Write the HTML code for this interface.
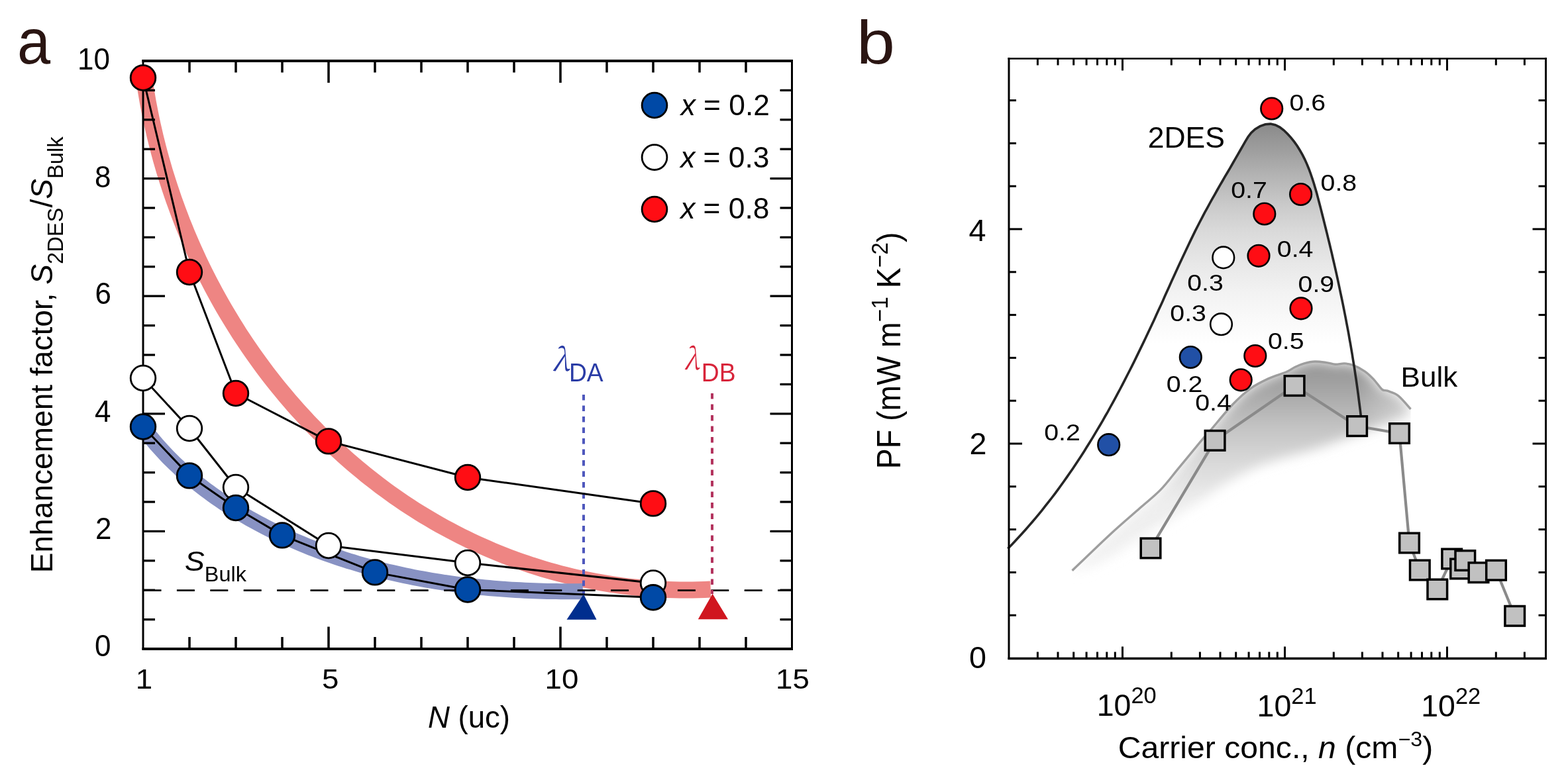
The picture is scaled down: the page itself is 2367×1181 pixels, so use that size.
<!DOCTYPE html>
<html><head><meta charset="utf-8"><title>Figure</title>
<style>html,body{margin:0;padding:0;background:#fff;overflow:hidden;width:2367px;height:1181px}svg{display:block;filter:blur(0.45px)}</style>
</head><body>
<svg width="2367" height="1181" viewBox="0 0 2367 1181">
<rect width="2367" height="1181" fill="#fff"/>
<path d="M218.8,127.2 L220.2,136.0 L221.7,144.8 L223.2,153.6 L224.9,162.4 L226.6,171.2 L228.4,180.0 L230.3,188.8 L232.3,197.6 L234.3,206.3 L236.5,215.0 L238.7,223.7 L241.0,232.4 L243.4,241.1 L245.9,249.8 L248.4,258.4 L251.1,267.0 L253.8,275.6 L256.6,284.2 L259.5,292.8 L262.4,301.3 L265.5,309.8 L268.6,318.3 L271.8,326.7 L275.0,335.1 L278.4,343.5 L281.8,351.9 L285.3,360.2 L288.9,368.5 L292.6,376.8 L296.3,385.0 L300.1,393.2 L304.0,401.4 L308.0,409.5 L312.1,417.6 L316.2,425.6 L320.4,433.6 L324.7,441.6 L329.0,449.5 L333.4,457.4 L337.9,465.3 L342.5,473.0 L347.2,480.8 L351.9,488.5 L356.7,496.2 L361.5,503.8 L366.5,511.4 L371.5,518.9 L376.6,526.3 L381.7,533.8 L386.9,541.1 L392.2,548.4 L397.6,555.7 L403.0,562.9 L408.5,570.1 L414.1,577.2 L419.7,584.2 L425.4,591.2 L431.2,598.1 L437.0,605.0 L442.9,611.8 L448.8,618.5 L454.9,625.2 L461.0,631.8 L467.1,638.4 L473.3,644.8 L479.6,651.3 L486.0,657.6 L492.4,663.9 L498.8,670.1 L505.4,676.3 L511.9,682.4 L518.6,688.4 L525.3,694.3 L532.1,700.2 L538.9,706.0 L545.8,711.7 L552.7,717.4 L559.7,722.9 L566.8,728.4 L573.9,733.9 L581.1,739.2 L588.3,744.5 L595.6,749.7 L602.9,754.8 L610.3,759.8 L617.8,764.7 L625.3,769.6 L632.8,774.3 L640.4,779.0 L648.1,783.6 L655.8,788.1 L663.6,792.6 L671.4,796.9 L679.2,801.1 L687.2,805.3 L695.1,809.4 L703.1,813.3 L711.2,817.2 L719.3,821.0 L727.4,824.7 L735.6,828.3 L743.9,831.9 L752.1,835.3 L760.5,838.6 L768.8,841.8 L777.2,845.0 L785.7,848.0 L794.2,850.9 L802.7,853.8 L811.3,856.5 L819.9,859.2 L828.5,861.7 L837.2,864.1 L845.9,866.5 L854.6,868.7 L863.4,870.8 L872.2,872.9 L881.0,874.8 L889.9,876.6 L898.8,878.3 L907.7,879.9 L916.7,881.4 L925.7,882.8 L934.7,884.1 L943.7,885.3 L952.8,886.4 L961.9,887.3 L971.0,888.2 L980.2,888.9 L989.3,889.5 L998.5,890.1 L1007.8,890.5 L1017.0,890.7 L1026.2,890.9 L1035.5,891.0 L1044.8,890.9 L1054.1,890.7 L1063.4,890.4 L1072.8,890.0" fill="none" stroke="#ee8583" stroke-width="25"/>
<path d="M215.2,644.4 L219.2,649.8 L223.3,655.2 L227.4,660.5 L231.7,665.7 L236.0,670.8 L240.5,675.8 L245.0,680.8 L249.5,685.7 L254.2,690.6 L258.9,695.3 L263.7,700.0 L268.6,704.6 L273.5,709.2 L278.5,713.7 L283.6,718.1 L288.7,722.5 L293.9,726.7 L299.1,731.0 L304.4,735.1 L309.8,739.2 L315.2,743.2 L320.7,747.2 L326.2,751.1 L331.7,754.9 L337.3,758.7 L343.0,762.4 L348.6,766.1 L354.4,769.7 L360.1,773.2 L365.9,776.7 L371.8,780.1 L377.6,783.5 L383.6,786.8 L389.5,790.0 L395.5,793.2 L401.5,796.3 L407.5,799.4 L413.6,802.4 L419.7,805.4 L425.8,808.3 L431.9,811.1 L438.1,813.9 L444.2,816.6 L450.4,819.3 L456.7,821.9 L462.9,824.5 L469.2,827.0 L475.4,829.4 L481.7,831.8 L488.1,834.2 L494.4,836.5 L500.8,838.7 L507.1,840.9 L513.5,843.0 L519.9,845.1 L526.4,847.2 L532.8,849.1 L539.3,851.1 L545.7,853.0 L552.2,854.8 L558.7,856.6 L565.2,858.3 L571.8,860.0 L578.3,861.7 L584.9,863.3 L591.4,864.8 L598.0,866.3 L604.6,867.8 L611.2,869.2 L617.8,870.6 L624.4,871.9 L631.1,873.2 L637.7,874.4 L644.4,875.6 L651.0,876.8 L657.7,877.9 L664.4,878.9 L671.1,880.0 L677.8,880.9 L684.5,881.9 L691.2,882.8 L697.9,883.6 L704.6,884.5 L711.3,885.3 L718.1,886.0 L724.8,886.7 L731.5,887.4 L738.3,888.0 L745.0,888.6 L751.8,889.1 L758.5,889.6 L765.3,890.1 L772.0,890.6 L778.8,891.0 L785.5,891.3 L792.3,891.7 L799.0,892.0 L805.8,892.3 L812.5,892.5 L819.3,892.7 L826.0,892.9 L832.8,893.0 L839.5,893.1 L846.2,893.2 L853.0,893.2 L859.7,893.2 L866.4,893.2 L873.2,893.2 L879.9,893.1" fill="none" stroke="#8892c3" stroke-width="24"/>
<g stroke="#000" fill="none">
<line x1="214.5" y1="92" x2="1197" y2="92" stroke-width="4"/>
<line x1="214.5" y1="980" x2="1197" y2="980" stroke-width="4"/>
<line x1="216" y1="90" x2="216" y2="981.5" stroke-width="3"/>
<line x1="1195.5" y1="90" x2="1195.5" y2="981.5" stroke-width="3"/>
<line x1="286.0" y1="92" x2="286.0" y2="109.5" stroke-width="3.5"/>
<line x1="286.0" y1="979.5" x2="286.0" y2="962.0" stroke-width="3.5"/>
<line x1="356.0" y1="92" x2="356.0" y2="109.5" stroke-width="3.5"/>
<line x1="356.0" y1="979.5" x2="356.0" y2="962.0" stroke-width="3.5"/>
<line x1="426.0" y1="92" x2="426.0" y2="109.5" stroke-width="3.5"/>
<line x1="426.0" y1="979.5" x2="426.0" y2="962.0" stroke-width="3.5"/>
<line x1="496.0" y1="92" x2="496.0" y2="125.0" stroke-width="3.5"/>
<line x1="496.0" y1="979.5" x2="496.0" y2="946.5" stroke-width="3.5"/>
<line x1="566.0" y1="92" x2="566.0" y2="109.5" stroke-width="3.5"/>
<line x1="566.0" y1="979.5" x2="566.0" y2="962.0" stroke-width="3.5"/>
<line x1="636.0" y1="92" x2="636.0" y2="109.5" stroke-width="3.5"/>
<line x1="636.0" y1="979.5" x2="636.0" y2="962.0" stroke-width="3.5"/>
<line x1="706.0" y1="92" x2="706.0" y2="109.5" stroke-width="3.5"/>
<line x1="706.0" y1="979.5" x2="706.0" y2="962.0" stroke-width="3.5"/>
<line x1="776.0" y1="92" x2="776.0" y2="109.5" stroke-width="3.5"/>
<line x1="776.0" y1="979.5" x2="776.0" y2="962.0" stroke-width="3.5"/>
<line x1="846.0" y1="92" x2="846.0" y2="125.0" stroke-width="3.5"/>
<line x1="846.0" y1="979.5" x2="846.0" y2="946.5" stroke-width="3.5"/>
<line x1="916.0" y1="92" x2="916.0" y2="109.5" stroke-width="3.5"/>
<line x1="916.0" y1="979.5" x2="916.0" y2="962.0" stroke-width="3.5"/>
<line x1="986.0" y1="92" x2="986.0" y2="109.5" stroke-width="3.5"/>
<line x1="986.0" y1="979.5" x2="986.0" y2="962.0" stroke-width="3.5"/>
<line x1="1056.0" y1="92" x2="1056.0" y2="109.5" stroke-width="3.5"/>
<line x1="1056.0" y1="979.5" x2="1056.0" y2="962.0" stroke-width="3.5"/>
<line x1="1126.0" y1="92" x2="1126.0" y2="109.5" stroke-width="3.5"/>
<line x1="1126.0" y1="979.5" x2="1126.0" y2="962.0" stroke-width="3.5"/>
<line x1="216" y1="935.6" x2="234.0" y2="935.6" stroke-width="3.3"/>
<line x1="1195.5" y1="935.6" x2="1177.5" y2="935.6" stroke-width="3.3"/>
<line x1="216" y1="891.2" x2="234.0" y2="891.2" stroke-width="3.3"/>
<line x1="1195.5" y1="891.2" x2="1177.5" y2="891.2" stroke-width="3.3"/>
<line x1="216" y1="846.8" x2="234.0" y2="846.8" stroke-width="3.3"/>
<line x1="1195.5" y1="846.8" x2="1177.5" y2="846.8" stroke-width="3.3"/>
<line x1="216" y1="802.4" x2="249.0" y2="802.4" stroke-width="3.3"/>
<line x1="1195.5" y1="802.4" x2="1162.5" y2="802.4" stroke-width="3.3"/>
<line x1="216" y1="758.0" x2="234.0" y2="758.0" stroke-width="3.3"/>
<line x1="1195.5" y1="758.0" x2="1177.5" y2="758.0" stroke-width="3.3"/>
<line x1="216" y1="713.6" x2="234.0" y2="713.6" stroke-width="3.3"/>
<line x1="1195.5" y1="713.6" x2="1177.5" y2="713.6" stroke-width="3.3"/>
<line x1="216" y1="669.2" x2="234.0" y2="669.2" stroke-width="3.3"/>
<line x1="1195.5" y1="669.2" x2="1177.5" y2="669.2" stroke-width="3.3"/>
<line x1="216" y1="624.8" x2="249.0" y2="624.8" stroke-width="3.3"/>
<line x1="1195.5" y1="624.8" x2="1162.5" y2="624.8" stroke-width="3.3"/>
<line x1="216" y1="580.4" x2="234.0" y2="580.4" stroke-width="3.3"/>
<line x1="1195.5" y1="580.4" x2="1177.5" y2="580.4" stroke-width="3.3"/>
<line x1="216" y1="536.0" x2="234.0" y2="536.0" stroke-width="3.3"/>
<line x1="1195.5" y1="536.0" x2="1177.5" y2="536.0" stroke-width="3.3"/>
<line x1="216" y1="491.6" x2="234.0" y2="491.6" stroke-width="3.3"/>
<line x1="1195.5" y1="491.6" x2="1177.5" y2="491.6" stroke-width="3.3"/>
<line x1="216" y1="447.2" x2="249.0" y2="447.2" stroke-width="3.3"/>
<line x1="1195.5" y1="447.2" x2="1162.5" y2="447.2" stroke-width="3.3"/>
<line x1="216" y1="402.8" x2="234.0" y2="402.8" stroke-width="3.3"/>
<line x1="1195.5" y1="402.8" x2="1177.5" y2="402.8" stroke-width="3.3"/>
<line x1="216" y1="358.4" x2="234.0" y2="358.4" stroke-width="3.3"/>
<line x1="1195.5" y1="358.4" x2="1177.5" y2="358.4" stroke-width="3.3"/>
<line x1="216" y1="314.0" x2="234.0" y2="314.0" stroke-width="3.3"/>
<line x1="1195.5" y1="314.0" x2="1177.5" y2="314.0" stroke-width="3.3"/>
<line x1="216" y1="269.6" x2="249.0" y2="269.6" stroke-width="3.3"/>
<line x1="1195.5" y1="269.6" x2="1162.5" y2="269.6" stroke-width="3.3"/>
<line x1="216" y1="225.2" x2="234.0" y2="225.2" stroke-width="3.3"/>
<line x1="1195.5" y1="225.2" x2="1177.5" y2="225.2" stroke-width="3.3"/>
<line x1="216" y1="180.8" x2="234.0" y2="180.8" stroke-width="3.3"/>
<line x1="1195.5" y1="180.8" x2="1177.5" y2="180.8" stroke-width="3.3"/>
<line x1="216" y1="136.4" x2="234.0" y2="136.4" stroke-width="3.3"/>
<line x1="1195.5" y1="136.4" x2="1177.5" y2="136.4" stroke-width="3.3"/>
</g>
<line x1="216.5" y1="891.6" x2="1195" y2="891.6" stroke="#000" stroke-width="2.6" stroke-dasharray="27 23.4"/>
<line x1="881" y1="596" x2="881" y2="897" stroke="#4f58bd" stroke-width="4" stroke-dasharray="8.5 8"/>
<line x1="1075" y1="594" x2="1075" y2="897" stroke="#b3335e" stroke-width="4" stroke-dasharray="8.5 8"/>
<polyline points="216.0,117.5 286.0,411.0 356.0,594.0 496.0,666.4 706.0,721.0 986.0,760.4" fill="none" stroke="#000" stroke-width="3" stroke-linejoin="round"/>
<polyline points="216.0,571.0 286.0,647.0 356.0,736.0 496.0,824.0 706.0,850.0 986.0,880.5" fill="none" stroke="#000" stroke-width="3" stroke-linejoin="round"/>
<polyline points="216.0,644.5 286.0,718.4 356.0,767.0 426.0,808.4 566.0,864.4 706.0,890.5 986.0,902.3" fill="none" stroke="#000" stroke-width="3" stroke-linejoin="round"/>
<circle cx="216.0" cy="117.5" r="18.8" fill="#ff0d14" stroke="#000" stroke-width="2.8"/>
<circle cx="286.0" cy="411.0" r="18.8" fill="#ff0d14" stroke="#000" stroke-width="2.8"/>
<circle cx="356.0" cy="594.0" r="18.8" fill="#ff0d14" stroke="#000" stroke-width="2.8"/>
<circle cx="496.0" cy="666.4" r="18.8" fill="#ff0d14" stroke="#000" stroke-width="2.8"/>
<circle cx="706.0" cy="721.0" r="18.8" fill="#ff0d14" stroke="#000" stroke-width="2.8"/>
<circle cx="986.0" cy="760.4" r="18.8" fill="#ff0d14" stroke="#000" stroke-width="2.8"/>
<circle cx="216.0" cy="571.0" r="18.8" fill="#fff" stroke="#000" stroke-width="2.8"/>
<circle cx="286.0" cy="647.0" r="18.8" fill="#fff" stroke="#000" stroke-width="2.8"/>
<circle cx="356.0" cy="736.0" r="18.8" fill="#fff" stroke="#000" stroke-width="2.8"/>
<circle cx="496.0" cy="824.0" r="18.8" fill="#fff" stroke="#000" stroke-width="2.8"/>
<circle cx="706.0" cy="850.0" r="18.8" fill="#fff" stroke="#000" stroke-width="2.8"/>
<circle cx="986.0" cy="880.5" r="18.8" fill="#fff" stroke="#000" stroke-width="2.8"/>
<circle cx="216.0" cy="644.5" r="18.8" fill="#0049a6" stroke="#000" stroke-width="2.8"/>
<circle cx="286.0" cy="718.4" r="18.8" fill="#0049a6" stroke="#000" stroke-width="2.8"/>
<circle cx="356.0" cy="767.0" r="18.8" fill="#0049a6" stroke="#000" stroke-width="2.8"/>
<circle cx="426.0" cy="808.4" r="18.8" fill="#0049a6" stroke="#000" stroke-width="2.8"/>
<circle cx="566.0" cy="864.4" r="18.8" fill="#0049a6" stroke="#000" stroke-width="2.8"/>
<circle cx="706.0" cy="890.5" r="18.8" fill="#0049a6" stroke="#000" stroke-width="2.8"/>
<circle cx="986.0" cy="902.3" r="18.8" fill="#0049a6" stroke="#000" stroke-width="2.8"/>
<polygon points="881,897.5 855.5,935.7 900.5,935.7" fill="#002e8e"/>
<polygon points="1075.6,896.7 1053.8,935.3 1099,935.3" fill="#d0161f"/>
<circle cx="988" cy="159.0" r="18.9" fill="#0049a6" stroke="#000" stroke-width="2.8"/>
<circle cx="988" cy="237.6" r="18.9" fill="#fff" stroke="#000" stroke-width="2.8"/>
<circle cx="988" cy="316.0" r="18.9" fill="#ff0d14" stroke="#000" stroke-width="2.8"/>
<defs><linearGradient id="gdes" gradientUnits="userSpaceOnUse" x1="0" y1="188" x2="0" y2="520"><stop offset="0" stop-color="#8a8a8a"/><stop offset="0.127" stop-color="#a0a0a0"/><stop offset="0.247" stop-color="#b6b6b6"/><stop offset="0.367" stop-color="#cacaca"/><stop offset="0.488" stop-color="#dadada"/><stop offset="0.639" stop-color="#e8e8e8"/><stop offset="0.76" stop-color="#f2f2f2"/><stop offset="0.88" stop-color="#f9f9f9"/><stop offset="1" stop-color="#ffffff"/></linearGradient>
<linearGradient id="gbulk" gradientUnits="userSpaceOnUse" x1="0" y1="546" x2="0" y2="760"><stop offset="0" stop-color="#939393"/><stop offset="0.2" stop-color="#a5a5a5"/><stop offset="0.45" stop-color="#c2c2c2"/><stop offset="0.7" stop-color="#d8d8d8"/><stop offset="1" stop-color="#ececec"/></linearGradient>
<filter id="fblur" x="-10%" y="-20%" width="120%" height="140%"><feGaussianBlur stdDeviation="9"/></filter>
<clipPath id="cbulk"><path d="M1618.6,861.7 C1628.2,852.5 1659.6,822.0 1676.5,806.4 C1693.4,790.8 1707.4,779.1 1720.0,768.0 C1732.6,756.9 1742.2,749.7 1752.0,739.6 C1761.8,729.5 1768.6,719.8 1778.7,707.6 C1788.8,695.5 1804.3,676.5 1812.5,666.7 C1820.7,656.9 1820.0,658.3 1828.0,649.0 C1836.0,639.7 1850.7,621.4 1860.6,611.0 C1870.5,600.6 1878.6,593.3 1887.6,586.8 C1896.6,580.3 1905.6,576.1 1914.6,571.9 C1923.6,567.7 1934.9,564.7 1941.7,561.8 C1948.5,558.9 1950.7,556.4 1955.2,554.3 C1959.7,552.1 1963.7,550.3 1968.7,548.9 C1973.7,547.5 1979.4,546.2 1985.0,546.0 C1990.6,545.8 1997.3,546.9 2002.5,547.6 C2007.7,548.3 2011.5,550.1 2016.0,550.3 C2020.5,550.5 2025.0,548.7 2029.5,548.9 C2034.0,549.1 2037.8,549.6 2043.0,551.6 C2048.2,553.6 2055.4,557.5 2060.6,561.1 C2065.8,564.7 2069.7,568.8 2074.0,573.3 C2078.3,577.8 2082.9,585.3 2086.3,588.1 C2089.7,590.9 2090.3,588.6 2094.4,590.2 C2098.5,591.8 2104.8,593.0 2110.7,597.6 C2116.6,602.2 2126.4,614.5 2129.6,617.9 L2129.6,994 L1618.6,994 Z"/></clipPath><linearGradient id="gmx" gradientUnits="userSpaceOnUse" x1="1618" y1="0" x2="2131" y2="0"><stop offset="0" stop-color="#fff" stop-opacity="0.7"/><stop offset="0.4" stop-color="#fff" stop-opacity="1"/><stop offset="0.85" stop-color="#fff" stop-opacity="1"/><stop offset="1" stop-color="#fff" stop-opacity="0.6"/></linearGradient><mask id="mbulk" maskUnits="userSpaceOnUse" x="1500" y="500" width="700" height="450"><rect x="1500" y="500" width="700" height="450" fill="url(#gmx)"/></mask></defs>
<path d="M1521.4,828.4 L1526.9,822.9 L1532.3,817.2 L1537.6,811.5 L1542.9,805.8 L1548.1,800.0 L1553.2,794.1 L1558.3,788.2 L1563.3,782.3 L1568.3,776.3 L1573.2,770.3 L1578.0,764.2 L1582.8,758.1 L1587.6,752.0 L1592.3,745.8 L1596.9,739.6 L1601.5,733.3 L1606.0,727.0 L1610.5,720.6 L1614.9,714.3 L1619.3,707.9 L1623.6,701.4 L1627.9,694.9 L1632.2,688.4 L1636.4,681.9 L1640.5,675.3 L1644.6,668.7 L1648.7,662.1 L1652.7,655.4 L1656.7,648.7 L1660.7,642.0 L1664.6,635.3 L1668.4,628.5 L1672.3,621.8 L1676.0,615.0 L1679.8,608.1 L1683.5,601.3 L1687.2,594.4 L1690.9,587.5 L1694.5,580.6 L1698.1,573.7 L1701.6,566.8 L1705.2,559.8 L1708.7,552.9 L1712.2,545.9 L1715.6,538.9 L1719.0,531.9 L1722.4,524.9 L1725.8,517.9 L1729.2,510.8 L1732.5,503.8 L1735.8,496.8 L1739.1,489.7 L1742.4,482.7 L1745.6,475.6 L1748.8,468.5 L1752.1,461.5 L1755.3,454.4 L1758.4,447.3 L1761.6,440.3 L1764.8,433.2 L1768.0,426.1 L1771.2,419.1 L1774.4,412.0 L1777.6,405.0 L1780.8,397.9 L1784.1,390.9 L1787.4,383.9 L1790.7,376.9 L1794.0,369.9 L1797.4,362.9 L1800.8,355.9 L1804.2,348.9 L1807.7,342.0 L1811.3,335.0 L1814.9,328.1 L1818.5,321.2 L1822.3,314.4 L1826.0,307.5 L1829.8,300.7 L1833.7,293.8 L1837.5,287.0 L1841.4,280.2 L1845.3,273.5 L1849.2,266.7 L1853.2,260.0 L1857.1,253.3 L1861.0,246.5 L1864.8,239.9 L1868.7,233.2 L1872.5,226.5 L1876.3,219.9 L1880.0,213.3 L1884.0,206.8 L1888.6,200.6 L1894.6,195.1 L1902.1,190.6 L1910.1,187.7 L1918.0,187.1 L1925.2,188.7 L1931.9,192.1 L1938.1,196.8 L1943.7,202.3 L1949.0,208.1 L1953.8,214.2 L1958.3,220.5 L1962.3,227.0 L1966.1,233.7 L1969.6,240.6 L1972.8,247.6 L1975.7,254.7 L1978.4,262.0 L1980.9,269.3 L1983.3,276.8 L1985.5,284.3 L1987.7,291.8 L1989.7,299.4 L1991.7,307.0 L1993.7,314.6 L1995.6,322.2 L1997.5,329.8 L1999.4,337.4 L2001.3,345.0 L2003.2,352.6 L2005.0,360.2 L2006.9,367.8 L2008.7,375.3 L2010.5,382.9 L2012.2,390.5 L2014.0,398.1 L2015.7,405.7 L2017.4,413.2 L2019.1,420.8 L2020.7,428.4 L2022.3,436.0 L2023.9,443.6 L2025.5,451.2 L2027.1,458.8 L2028.6,466.4 L2030.1,474.0 L2031.6,481.6 L2033.0,489.2 L2034.5,496.8 L2035.9,504.4 L2037.2,512.1 L2038.6,519.7 L2039.9,527.4 L2041.2,535.0 L2042.4,542.7 L2043.7,550.4 L2044.9,558.0 L2046.0,565.7 L2047.2,573.4 L2048.3,581.2 L2049.4,588.9 L2050.4,596.6 L2051.4,604.4 L2052.4,612.2 L2053.4,620.0 L2054.3,627.8 L2054,994 L1523,994 Z" fill="url(#gdes)" stroke="none"/>
<g clip-path="url(#cbulk)" mask="url(#mbulk)"><path d="M1618.6,861.7 C1628.2,852.5 1659.6,822.0 1676.5,806.4 C1693.4,790.8 1707.4,779.1 1720.0,768.0 C1732.6,756.9 1742.2,749.7 1752.0,739.6 C1761.8,729.5 1768.6,719.8 1778.7,707.6 C1788.8,695.5 1804.3,676.5 1812.5,666.7 C1820.7,656.9 1820.0,658.3 1828.0,649.0 C1836.0,639.7 1850.7,621.4 1860.6,611.0 C1870.5,600.6 1878.6,593.3 1887.6,586.8 C1896.6,580.3 1905.6,576.1 1914.6,571.9 C1923.6,567.7 1934.9,564.7 1941.7,561.8 C1948.5,558.9 1950.7,556.4 1955.2,554.3 C1959.7,552.1 1963.7,550.3 1968.7,548.9 C1973.7,547.5 1979.4,546.2 1985.0,546.0 C1990.6,545.8 1997.3,546.9 2002.5,547.6 C2007.7,548.3 2011.5,550.1 2016.0,550.3 C2020.5,550.5 2025.0,548.7 2029.5,548.9 C2034.0,549.1 2037.8,549.6 2043.0,551.6 C2048.2,553.6 2055.4,557.5 2060.6,561.1 C2065.8,564.7 2069.7,568.8 2074.0,573.3 C2078.3,577.8 2082.9,585.3 2086.3,588.1 C2089.7,590.9 2090.3,588.6 2094.4,590.2 C2098.5,591.8 2104.8,593.0 2110.7,597.6 C2116.6,602.2 2126.4,614.5 2129.6,617.9 L2129.6,617.9 C2128.0,619.9 2133.3,623.8 2120.0,630.0 C2106.7,636.2 2073.3,646.7 2050.0,655.0 C2026.7,663.3 2004.2,672.2 1980.0,680.0 C1955.8,687.8 1926.7,693.7 1905.0,702.0 C1883.3,710.3 1865.3,721.2 1850.0,730.0 C1834.7,738.8 1827.2,745.8 1813.0,755.0 C1798.8,764.2 1780.5,775.5 1765.0,785.0 C1749.5,794.5 1734.2,803.2 1720.0,812.0 C1705.8,820.8 1693.3,830.3 1680.0,838.0 C1666.7,845.7 1650.2,854.0 1640.0,858.0 C1629.8,862.0 1622.2,861.1 1618.6,861.7 Z" fill="url(#gbulk)" filter="url(#fblur)"/></g>
<path d="M1618.6,861.7 C1628.2,852.5 1659.6,822.0 1676.5,806.4 C1693.4,790.8 1707.4,779.1 1720.0,768.0 C1732.6,756.9 1742.2,749.7 1752.0,739.6 C1761.8,729.5 1768.6,719.8 1778.7,707.6 C1788.8,695.5 1804.3,676.5 1812.5,666.7 C1820.7,656.9 1820.0,658.3 1828.0,649.0 C1836.0,639.7 1850.7,621.4 1860.6,611.0 C1870.5,600.6 1878.6,593.3 1887.6,586.8 C1896.6,580.3 1905.6,576.1 1914.6,571.9 C1923.6,567.7 1934.9,564.7 1941.7,561.8 C1948.5,558.9 1950.7,556.4 1955.2,554.3 C1959.7,552.1 1963.7,550.3 1968.7,548.9 C1973.7,547.5 1979.4,546.2 1985.0,546.0 C1990.6,545.8 1997.3,546.9 2002.5,547.6 C2007.7,548.3 2011.5,550.1 2016.0,550.3 C2020.5,550.5 2025.0,548.7 2029.5,548.9 C2034.0,549.1 2037.8,549.6 2043.0,551.6 C2048.2,553.6 2055.4,557.5 2060.6,561.1 C2065.8,564.7 2069.7,568.8 2074.0,573.3 C2078.3,577.8 2082.9,585.3 2086.3,588.1 C2089.7,590.9 2090.3,588.6 2094.4,590.2 C2098.5,591.8 2104.8,593.0 2110.7,597.6 C2116.6,602.2 2126.4,614.5 2129.6,617.9" fill="none" stroke="#9e9e9e" stroke-width="3.4"/>
<path d="M1521.4,828.4 L1526.9,822.9 L1532.3,817.2 L1537.6,811.5 L1542.9,805.8 L1548.1,800.0 L1553.2,794.1 L1558.3,788.2 L1563.3,782.3 L1568.3,776.3 L1573.2,770.3 L1578.0,764.2 L1582.8,758.1 L1587.6,752.0 L1592.3,745.8 L1596.9,739.6 L1601.5,733.3 L1606.0,727.0 L1610.5,720.6 L1614.9,714.3 L1619.3,707.9 L1623.6,701.4 L1627.9,694.9 L1632.2,688.4 L1636.4,681.9 L1640.5,675.3 L1644.6,668.7 L1648.7,662.1 L1652.7,655.4 L1656.7,648.7 L1660.7,642.0 L1664.6,635.3 L1668.4,628.5 L1672.3,621.8 L1676.0,615.0 L1679.8,608.1 L1683.5,601.3 L1687.2,594.4 L1690.9,587.5 L1694.5,580.6 L1698.1,573.7 L1701.6,566.8 L1705.2,559.8 L1708.7,552.9 L1712.2,545.9 L1715.6,538.9 L1719.0,531.9 L1722.4,524.9 L1725.8,517.9 L1729.2,510.8 L1732.5,503.8 L1735.8,496.8 L1739.1,489.7 L1742.4,482.7 L1745.6,475.6 L1748.8,468.5 L1752.1,461.5 L1755.3,454.4 L1758.4,447.3 L1761.6,440.3 L1764.8,433.2 L1768.0,426.1 L1771.2,419.1 L1774.4,412.0 L1777.6,405.0 L1780.8,397.9 L1784.1,390.9 L1787.4,383.9 L1790.7,376.9 L1794.0,369.9 L1797.4,362.9 L1800.8,355.9 L1804.2,348.9 L1807.7,342.0 L1811.3,335.0 L1814.9,328.1 L1818.5,321.2 L1822.3,314.4 L1826.0,307.5 L1829.8,300.7 L1833.7,293.8 L1837.5,287.0 L1841.4,280.2 L1845.3,273.5 L1849.2,266.7 L1853.2,260.0 L1857.1,253.3 L1861.0,246.5 L1864.8,239.9 L1868.7,233.2 L1872.5,226.5 L1876.3,219.9 L1880.0,213.3 L1884.0,206.8 L1888.6,200.6 L1894.6,195.1 L1902.1,190.6 L1910.1,187.7 L1918.0,187.1 L1925.2,188.7 L1931.9,192.1 L1938.1,196.8 L1943.7,202.3 L1949.0,208.1 L1953.8,214.2 L1958.3,220.5 L1962.3,227.0 L1966.1,233.7 L1969.6,240.6 L1972.8,247.6 L1975.7,254.7 L1978.4,262.0 L1980.9,269.3 L1983.3,276.8 L1985.5,284.3 L1987.7,291.8 L1989.7,299.4 L1991.7,307.0 L1993.7,314.6 L1995.6,322.2 L1997.5,329.8 L1999.4,337.4 L2001.3,345.0 L2003.2,352.6 L2005.0,360.2 L2006.9,367.8 L2008.7,375.3 L2010.5,382.9 L2012.2,390.5 L2014.0,398.1 L2015.7,405.7 L2017.4,413.2 L2019.1,420.8 L2020.7,428.4 L2022.3,436.0 L2023.9,443.6 L2025.5,451.2 L2027.1,458.8 L2028.6,466.4 L2030.1,474.0 L2031.6,481.6 L2033.0,489.2 L2034.5,496.8 L2035.9,504.4 L2037.2,512.1 L2038.6,519.7 L2039.9,527.4 L2041.2,535.0 L2042.4,542.7 L2043.7,550.4 L2044.9,558.0 L2046.0,565.7 L2047.2,573.4 L2048.3,581.2 L2049.4,588.9 L2050.4,596.6 L2051.4,604.4 L2052.4,612.2 L2053.4,620.0 L2054.3,627.8" fill="none" stroke="#262626" stroke-width="3.6"/>
<polyline points="1737.0,827.9 1834.1,665.3 1954.1,582.6 2048.6,643.6 2112.5,654.5 2127.5,820.0 2143.3,861.0 2169.8,890.0 2191.7,844.0 2204.6,859.0 2211.8,846.5 2232.0,864.7 2258.5,861.2 2286.7,930.3" fill="none" stroke="#8a8a8a" stroke-width="4.2"/>
<rect x="1722.2" y="813.1" width="29.6" height="29.6" fill="#c1c1c1" stroke="#000" stroke-width="3.5"/>
<rect x="1819.3" y="650.5" width="29.6" height="29.6" fill="#c1c1c1" stroke="#000" stroke-width="3.5"/>
<rect x="1939.3" y="567.8" width="29.6" height="29.6" fill="#c1c1c1" stroke="#000" stroke-width="3.5"/>
<rect x="2033.8" y="628.8" width="29.6" height="29.6" fill="#c1c1c1" stroke="#000" stroke-width="3.5"/>
<rect x="2097.7" y="639.7" width="29.6" height="29.6" fill="#c1c1c1" stroke="#000" stroke-width="3.5"/>
<rect x="2112.7" y="805.2" width="29.6" height="29.6" fill="#c1c1c1" stroke="#000" stroke-width="3.5"/>
<rect x="2128.5" y="846.2" width="29.6" height="29.6" fill="#c1c1c1" stroke="#000" stroke-width="3.5"/>
<rect x="2155.0" y="875.2" width="29.6" height="29.6" fill="#c1c1c1" stroke="#000" stroke-width="3.5"/>
<rect x="2176.9" y="829.2" width="29.6" height="29.6" fill="#c1c1c1" stroke="#000" stroke-width="3.5"/>
<rect x="2189.8" y="844.2" width="29.6" height="29.6" fill="#c1c1c1" stroke="#000" stroke-width="3.5"/>
<rect x="2197.0" y="831.7" width="29.6" height="29.6" fill="#c1c1c1" stroke="#000" stroke-width="3.5"/>
<rect x="2217.2" y="849.9" width="29.6" height="29.6" fill="#c1c1c1" stroke="#000" stroke-width="3.5"/>
<rect x="2243.7" y="846.4" width="29.6" height="29.6" fill="#c1c1c1" stroke="#000" stroke-width="3.5"/>
<rect x="2271.9" y="915.5" width="29.6" height="29.6" fill="#c1c1c1" stroke="#000" stroke-width="3.5"/>
<circle cx="1919.7" cy="164.0" r="16.3" fill="#ff0d14" stroke="#000" stroke-width="2.6"/>
<circle cx="1963.6" cy="293.5" r="16.3" fill="#ff0d14" stroke="#000" stroke-width="2.6"/>
<circle cx="1908.8" cy="323.0" r="16.3" fill="#ff0d14" stroke="#000" stroke-width="2.6"/>
<circle cx="1900.0" cy="386.3" r="16.3" fill="#ff0d14" stroke="#000" stroke-width="2.6"/>
<circle cx="1846.8" cy="388.9" r="16.3" fill="#fff" stroke="#000" stroke-width="2.6"/>
<circle cx="1964.0" cy="465.8" r="16.3" fill="#ff0d14" stroke="#000" stroke-width="2.6"/>
<circle cx="1843.5" cy="489.7" r="16.3" fill="#fff" stroke="#000" stroke-width="2.6"/>
<circle cx="1894.8" cy="537.5" r="16.3" fill="#ff0d14" stroke="#000" stroke-width="2.6"/>
<circle cx="1797.3" cy="539.5" r="16.3" fill="#2150a6" stroke="#000" stroke-width="2.6"/>
<circle cx="1873.2" cy="573.8" r="16.3" fill="#ff0d14" stroke="#000" stroke-width="2.6"/>
<circle cx="1673.7" cy="671.7" r="16.3" fill="#2150a6" stroke="#000" stroke-width="2.6"/>
<g stroke="#000" fill="none">
<line x1="1521.5" y1="88.5" x2="2335" y2="88.5" stroke-width="2.5"/>
<line x1="1521.5" y1="994.5" x2="2335" y2="994.5" stroke-width="3.5"/>
<line x1="1523" y1="87" x2="1523" y2="996" stroke-width="3"/>
<line x1="2333.5" y1="87" x2="2333.5" y2="996" stroke-width="3"/>
<line x1="1566.4" y1="88.5" x2="1566.4" y2="98.5" stroke-width="3"/>
<line x1="1566.4" y1="994.5" x2="1566.4" y2="984.5" stroke-width="3"/>
<line x1="1597.0" y1="88.5" x2="1597.0" y2="98.5" stroke-width="3"/>
<line x1="1597.0" y1="994.5" x2="1597.0" y2="984.5" stroke-width="3"/>
<line x1="1620.7" y1="88.5" x2="1620.7" y2="98.5" stroke-width="3"/>
<line x1="1620.7" y1="994.5" x2="1620.7" y2="984.5" stroke-width="3"/>
<line x1="1640.1" y1="88.5" x2="1640.1" y2="98.5" stroke-width="3"/>
<line x1="1640.1" y1="994.5" x2="1640.1" y2="984.5" stroke-width="3"/>
<line x1="1656.5" y1="88.5" x2="1656.5" y2="98.5" stroke-width="3"/>
<line x1="1656.5" y1="994.5" x2="1656.5" y2="984.5" stroke-width="3"/>
<line x1="1670.8" y1="88.5" x2="1670.8" y2="98.5" stroke-width="3"/>
<line x1="1670.8" y1="994.5" x2="1670.8" y2="984.5" stroke-width="3"/>
<line x1="1683.3" y1="88.5" x2="1683.3" y2="98.5" stroke-width="3"/>
<line x1="1683.3" y1="994.5" x2="1683.3" y2="984.5" stroke-width="3"/>
<line x1="1694.5" y1="88.5" x2="1694.5" y2="106.5" stroke-width="3"/>
<line x1="1694.5" y1="994.5" x2="1694.5" y2="976.5" stroke-width="3"/>
<line x1="1768.3" y1="88.5" x2="1768.3" y2="98.5" stroke-width="3"/>
<line x1="1768.3" y1="994.5" x2="1768.3" y2="984.5" stroke-width="3"/>
<line x1="1811.4" y1="88.5" x2="1811.4" y2="98.5" stroke-width="3"/>
<line x1="1811.4" y1="994.5" x2="1811.4" y2="984.5" stroke-width="3"/>
<line x1="1842.0" y1="88.5" x2="1842.0" y2="98.5" stroke-width="3"/>
<line x1="1842.0" y1="994.5" x2="1842.0" y2="984.5" stroke-width="3"/>
<line x1="1865.7" y1="88.5" x2="1865.7" y2="98.5" stroke-width="3"/>
<line x1="1865.7" y1="994.5" x2="1865.7" y2="984.5" stroke-width="3"/>
<line x1="1885.1" y1="88.5" x2="1885.1" y2="98.5" stroke-width="3"/>
<line x1="1885.1" y1="994.5" x2="1885.1" y2="984.5" stroke-width="3"/>
<line x1="1901.5" y1="88.5" x2="1901.5" y2="98.5" stroke-width="3"/>
<line x1="1901.5" y1="994.5" x2="1901.5" y2="984.5" stroke-width="3"/>
<line x1="1915.8" y1="88.5" x2="1915.8" y2="98.5" stroke-width="3"/>
<line x1="1915.8" y1="994.5" x2="1915.8" y2="984.5" stroke-width="3"/>
<line x1="1928.3" y1="88.5" x2="1928.3" y2="98.5" stroke-width="3"/>
<line x1="1928.3" y1="994.5" x2="1928.3" y2="984.5" stroke-width="3"/>
<line x1="1939.5" y1="88.5" x2="1939.5" y2="106.5" stroke-width="3"/>
<line x1="1939.5" y1="994.5" x2="1939.5" y2="976.5" stroke-width="3"/>
<line x1="2013.3" y1="88.5" x2="2013.3" y2="98.5" stroke-width="3"/>
<line x1="2013.3" y1="994.5" x2="2013.3" y2="984.5" stroke-width="3"/>
<line x1="2056.4" y1="88.5" x2="2056.4" y2="98.5" stroke-width="3"/>
<line x1="2056.4" y1="994.5" x2="2056.4" y2="984.5" stroke-width="3"/>
<line x1="2087.0" y1="88.5" x2="2087.0" y2="98.5" stroke-width="3"/>
<line x1="2087.0" y1="994.5" x2="2087.0" y2="984.5" stroke-width="3"/>
<line x1="2110.7" y1="88.5" x2="2110.7" y2="98.5" stroke-width="3"/>
<line x1="2110.7" y1="994.5" x2="2110.7" y2="984.5" stroke-width="3"/>
<line x1="2130.1" y1="88.5" x2="2130.1" y2="98.5" stroke-width="3"/>
<line x1="2130.1" y1="994.5" x2="2130.1" y2="984.5" stroke-width="3"/>
<line x1="2146.5" y1="88.5" x2="2146.5" y2="98.5" stroke-width="3"/>
<line x1="2146.5" y1="994.5" x2="2146.5" y2="984.5" stroke-width="3"/>
<line x1="2160.8" y1="88.5" x2="2160.8" y2="98.5" stroke-width="3"/>
<line x1="2160.8" y1="994.5" x2="2160.8" y2="984.5" stroke-width="3"/>
<line x1="2173.3" y1="88.5" x2="2173.3" y2="98.5" stroke-width="3"/>
<line x1="2173.3" y1="994.5" x2="2173.3" y2="984.5" stroke-width="3"/>
<line x1="2184.5" y1="88.5" x2="2184.5" y2="106.5" stroke-width="3"/>
<line x1="2184.5" y1="994.5" x2="2184.5" y2="976.5" stroke-width="3"/>
<line x1="2258.3" y1="88.5" x2="2258.3" y2="98.5" stroke-width="3"/>
<line x1="2258.3" y1="994.5" x2="2258.3" y2="984.5" stroke-width="3"/>
<line x1="2301.4" y1="88.5" x2="2301.4" y2="98.5" stroke-width="3"/>
<line x1="2301.4" y1="994.5" x2="2301.4" y2="984.5" stroke-width="3"/>
<line x1="1523" y1="929.2" x2="1534.0" y2="929.2" stroke-width="3"/>
<line x1="2333.5" y1="929.2" x2="2322.5" y2="929.2" stroke-width="3"/>
<line x1="1523" y1="864.4" x2="1534.0" y2="864.4" stroke-width="3"/>
<line x1="2333.5" y1="864.4" x2="2322.5" y2="864.4" stroke-width="3"/>
<line x1="1523" y1="799.6" x2="1534.0" y2="799.6" stroke-width="3"/>
<line x1="2333.5" y1="799.6" x2="2322.5" y2="799.6" stroke-width="3"/>
<line x1="1523" y1="734.8" x2="1534.0" y2="734.8" stroke-width="3"/>
<line x1="2333.5" y1="734.8" x2="2322.5" y2="734.8" stroke-width="3"/>
<line x1="1523" y1="670.0" x2="1543.0" y2="670.0" stroke-width="3"/>
<line x1="2333.5" y1="670.0" x2="2313.5" y2="670.0" stroke-width="3"/>
<line x1="1523" y1="605.2" x2="1534.0" y2="605.2" stroke-width="3"/>
<line x1="2333.5" y1="605.2" x2="2322.5" y2="605.2" stroke-width="3"/>
<line x1="1523" y1="540.4" x2="1534.0" y2="540.4" stroke-width="3"/>
<line x1="2333.5" y1="540.4" x2="2322.5" y2="540.4" stroke-width="3"/>
<line x1="1523" y1="475.6" x2="1534.0" y2="475.6" stroke-width="3"/>
<line x1="2333.5" y1="475.6" x2="2322.5" y2="475.6" stroke-width="3"/>
<line x1="1523" y1="410.8" x2="1534.0" y2="410.8" stroke-width="3"/>
<line x1="2333.5" y1="410.8" x2="2322.5" y2="410.8" stroke-width="3"/>
<line x1="1523" y1="346.0" x2="1543.0" y2="346.0" stroke-width="3"/>
<line x1="2333.5" y1="346.0" x2="2313.5" y2="346.0" stroke-width="3"/>
<line x1="1523" y1="281.2" x2="1534.0" y2="281.2" stroke-width="3"/>
<line x1="2333.5" y1="281.2" x2="2322.5" y2="281.2" stroke-width="3"/>
<line x1="1523" y1="216.4" x2="1534.0" y2="216.4" stroke-width="3"/>
<line x1="2333.5" y1="216.4" x2="2322.5" y2="216.4" stroke-width="3"/>
<line x1="1523" y1="151.6" x2="1534.0" y2="151.6" stroke-width="3"/>
<line x1="2333.5" y1="151.6" x2="2322.5" y2="151.6" stroke-width="3"/>
</g>
<text id="lab_a" transform="translate(26.08,96.04) scale(0.9348,1)" font-family='"Liberation Sans", Arial, Helvetica, sans-serif' font-size="96.40" fill="#2a1512">a</text>
<text id="ya10" transform="translate(166.00,104.70) scale(0.9500,1)" font-family='"Liberation Sans", Arial, Helvetica, sans-serif' font-size="46.30" fill="#000" text-anchor="end">10</text>
<text id="ya8" transform="translate(167.50,282.90) scale(0.9500,1)" font-family='"Liberation Sans", Arial, Helvetica, sans-serif' font-size="46.30" fill="#000" text-anchor="end">8</text>
<text id="ya6" transform="translate(168.00,459.00) scale(0.9500,1)" font-family='"Liberation Sans", Arial, Helvetica, sans-serif' font-size="46.30" fill="#000" text-anchor="end">6</text>
<text id="ya4" transform="translate(167.50,636.60) scale(0.9500,1)" font-family='"Liberation Sans", Arial, Helvetica, sans-serif' font-size="46.30" fill="#000" text-anchor="end">4</text>
<text id="ya2" transform="translate(168.50,814.10) scale(0.9500,1)" font-family='"Liberation Sans", Arial, Helvetica, sans-serif' font-size="46.30" fill="#000" text-anchor="end">2</text>
<text id="ya0" transform="translate(167.50,991.30) scale(0.9500,1)" font-family='"Liberation Sans", Arial, Helvetica, sans-serif' font-size="46.30" fill="#000" text-anchor="end">0</text>
<text id="xa1" transform="translate(217.50,1040.00) scale(1.0600,1)" font-family='"Liberation Sans", Arial, Helvetica, sans-serif' font-size="43.10" fill="#000" text-anchor="middle">1</text>
<text id="xa5" transform="translate(498.70,1040.00) scale(1.0600,1)" font-family='"Liberation Sans", Arial, Helvetica, sans-serif' font-size="43.10" fill="#000" text-anchor="middle">5</text>
<text id="xa10" transform="translate(847.90,1040.00) scale(1.0600,1)" font-family='"Liberation Sans", Arial, Helvetica, sans-serif' font-size="43.10" fill="#000" text-anchor="middle">10</text>
<text id="xa15" transform="translate(1196.50,1039.50) scale(1.0600,1)" font-family='"Liberation Sans", Arial, Helvetica, sans-serif' font-size="43.10" fill="#000" text-anchor="middle">15</text>
<text id="xlab_a" transform="translate(645.90,1098.87) scale(0.9837,1)" font-family='"Liberation Sans", Arial, Helvetica, sans-serif' font-size="46.32" fill="#000"><tspan font-style="italic">N</tspan> (uc)</text>
<text id="ylab_a" transform="translate(78.97,865.23) rotate(-90) scale(0.9886,1)" font-family='"Liberation Sans", Arial, Helvetica, sans-serif' font-size="46.62" fill="#000">Enhancement factor, <tspan font-style="italic">S</tspan><tspan font-size="0.71em" dy="0.47em">2DES</tspan><tspan dy="-0.33em">/</tspan><tspan font-style="italic">S</tspan><tspan font-size="0.71em" dy="0.47em">Bulk</tspan></text>
<text id="leg1" transform="translate(1027.63,174.05)" font-family='"Liberation Sans", Arial, Helvetica, sans-serif' font-size="44.30" fill="#000"><tspan font-style="italic">x</tspan> = 0.2</text>
<text id="leg2" transform="translate(1027.13,252.89)" font-family='"Liberation Sans", Arial, Helvetica, sans-serif' font-size="44.30" fill="#000"><tspan font-style="italic">x</tspan> = 0.3</text>
<text id="leg3" transform="translate(1027.13,329.60)" font-family='"Liberation Sans", Arial, Helvetica, sans-serif' font-size="44.30" fill="#000"><tspan font-style="italic">x</tspan> = 0.8</text>
<text id="sbulk" transform="translate(278.82,861.62) scale(1.0604,1)" font-family='"Liberation Sans", Arial, Helvetica, sans-serif' font-size="42.46" fill="#000"><tspan font-style="italic">S</tspan><tspan font-size="0.72em" dy="0.525em">Bulk</tspan></text>
<text id="lamA" transform="translate(833.66,560.45) scale(0.9459,1)" font-family='"Noto Serif CJK SC", serif' font-size="47.20" fill="#2a3ca6" font-style="italic">λ</text>
<text id="DA" transform="translate(858.96,575.70) scale(0.9550,1)" font-family='"Liberation Sans", Arial, Helvetica, sans-serif' font-size="39.00" fill="#2a3ca6">DA</text>
<text id="lamB" transform="translate(1032.77,558.01) scale(0.8829,1)" font-family='"Noto Serif CJK SC", serif' font-size="45.02" fill="#d8243a" font-style="italic">λ</text>
<text id="DB" transform="translate(1058.85,575.70) scale(0.9550,1)" font-family='"Liberation Sans", Arial, Helvetica, sans-serif' font-size="39.00" fill="#d8243a">DB</text>
<text id="lab_b" transform="translate(1292.92,95.54) scale(1.1164,1)" font-family='"Liberation Sans", Arial, Helvetica, sans-serif' font-size="93.36" fill="#2a1512">b</text>
<text id="yb4" transform="translate(1488.50,363.50) scale(1.0200,1)" font-family='"Liberation Sans", Arial, Helvetica, sans-serif' font-size="45.80" fill="#000" text-anchor="end">4</text>
<text id="yb2" transform="translate(1489.50,686.00) scale(1.0200,1)" font-family='"Liberation Sans", Arial, Helvetica, sans-serif' font-size="45.80" fill="#000" text-anchor="end">2</text>
<text id="yb0" transform="translate(1489.00,1009.20) scale(1.0200,1)" font-family='"Liberation Sans", Arial, Helvetica, sans-serif' font-size="45.80" fill="#000" text-anchor="end">0</text>
<text id="xb20" transform="translate(1655.65,1081.42)" font-family='"Liberation Sans", Arial, Helvetica, sans-serif' font-size="46.50" fill="#000">10<tspan font-size="0.74em" dy="-0.555em">20</tspan></text>
<text id="xb21" transform="translate(1897.60,1081.62)" font-family='"Liberation Sans", Arial, Helvetica, sans-serif' font-size="46.50" fill="#000">10<tspan font-size="0.74em" dy="-0.555em">21</tspan></text>
<text id="xb22" transform="translate(2145.17,1081.62)" font-family='"Liberation Sans", Arial, Helvetica, sans-serif' font-size="46.50" fill="#000">10<tspan font-size="0.74em" dy="-0.555em">22</tspan></text>
<text id="xlab_b" transform="translate(1687.78,1144.80) scale(1.0450,1)" font-family='"Liberation Sans", Arial, Helvetica, sans-serif' font-size="46.08" fill="#000">Carrier conc., <tspan font-style="italic">n</tspan> (cm<tspan font-size="0.67em" dy="-0.57em">−3</tspan><tspan dy="0.38em">)</tspan></text>
<text id="ylab_b" transform="translate(1358.82,708.16) rotate(-90) scale(0.9353,1)" font-family='"Liberation Sans", Arial, Helvetica, sans-serif' font-size="49.69" fill="#000">PF (mW m<tspan font-size="0.72em" dy="-0.54em">−1</tspan><tspan dy="0.39em"> K</tspan><tspan font-size="0.72em" dy="-0.54em">−2</tspan><tspan dy="0.39em">)</tspan></text>
<text id="2DES" transform="translate(1732.64,223.20) scale(1.0078,1)" font-family='"Liberation Sans", Arial, Helvetica, sans-serif' font-size="44.15" fill="#000">2DES</text>
<text id="Bulk" transform="translate(2114.60,583.89) scale(1.0466,1)" font-family='"Liberation Sans", Arial, Helvetica, sans-serif' font-size="42.05" fill="#000">Bulk</text>
<text id="n06" transform="translate(1946.60,166.80) scale(1.1000,1)" font-family='"Liberation Sans", Arial, Helvetica, sans-serif' font-size="35.70" fill="#000">0.6</text>
<text id="n08" transform="translate(1993.60,288.40) scale(1.1000,1)" font-family='"Liberation Sans", Arial, Helvetica, sans-serif' font-size="35.70" fill="#000">0.8</text>
<text id="n07" transform="translate(1858.20,299.40) scale(1.1000,1)" font-family='"Liberation Sans", Arial, Helvetica, sans-serif' font-size="35.70" fill="#000">0.7</text>
<text id="n04a" transform="translate(1927.80,388.00) scale(1.1000,1)" font-family='"Liberation Sans", Arial, Helvetica, sans-serif' font-size="35.70" fill="#000">0.4</text>
<text id="n03a" transform="translate(1792.20,438.50) scale(1.1000,1)" font-family='"Liberation Sans", Arial, Helvetica, sans-serif' font-size="35.70" fill="#000">0.3</text>
<text id="n09" transform="translate(1959.60,441.00) scale(1.1000,1)" font-family='"Liberation Sans", Arial, Helvetica, sans-serif' font-size="35.70" fill="#000">0.9</text>
<text id="n03b" transform="translate(1766.30,485.40) scale(1.1000,1)" font-family='"Liberation Sans", Arial, Helvetica, sans-serif' font-size="35.70" fill="#000">0.3</text>
<text id="n05" transform="translate(1913.90,526.80) scale(1.1000,1)" font-family='"Liberation Sans", Arial, Helvetica, sans-serif' font-size="35.70" fill="#000">0.5</text>
<text id="n02a" transform="translate(1760.70,592.00) scale(1.1000,1)" font-family='"Liberation Sans", Arial, Helvetica, sans-serif' font-size="35.70" fill="#000">0.2</text>
<text id="n04b" transform="translate(1804.20,620.00) scale(1.1000,1)" font-family='"Liberation Sans", Arial, Helvetica, sans-serif' font-size="35.70" fill="#000">0.4</text>
<text id="n02b" transform="translate(1576.20,665.00) scale(1.1000,1)" font-family='"Liberation Sans", Arial, Helvetica, sans-serif' font-size="35.70" fill="#000">0.2</text>
</svg>
</body></html>
